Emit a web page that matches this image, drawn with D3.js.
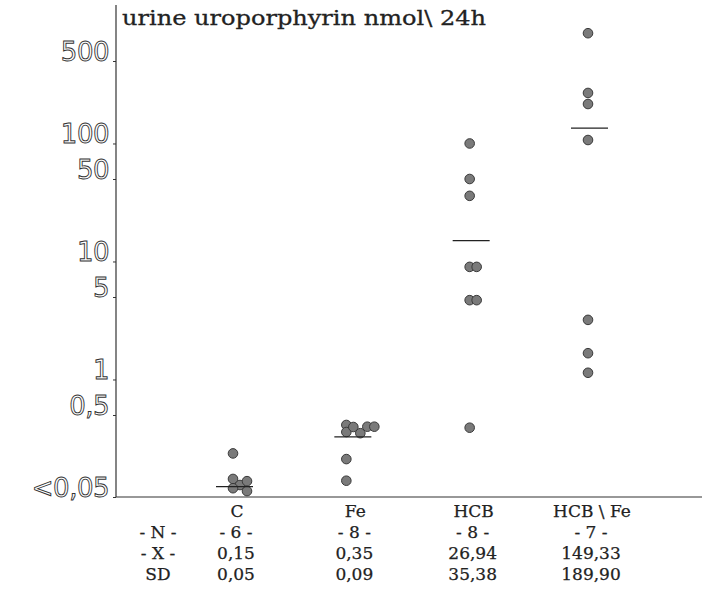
<!DOCTYPE html>
<html>
<head>
<meta charset="utf-8">
<script src="https://cdn.jsdelivr.net/npm/d3@7"></script>
<style>
  body { margin: 0; background: #fff; }
  .tbl { font-family: "DejaVu Serif", serif; font-size: 17px; fill: #222; stroke: #222; stroke-width: 0.25px; }
</style>
</head>
<body>
<div id="chart"></div>
<script>
// Setting the svg area
var svgWidth = 702;
var svgHeight = 590;

// groups and the values (log scale, lower part compressed)
var groups = ["C", "Fe", "HCB", "HCB \\ Fe"];
var valuesC = [0.17, 0.083, 0.070, 0.064, 0.078, 0.059];
var valuesFe = [0.378, 0.31, 0.357, 0.30, 0.36, 0.36, 0.145, 0.079];
var valuesHCB = [100, 50, 36, 9, 9, 4.7, 4.7, 0.35];
var valuesHCBFe = [860, 268, 216, 107, 3.2, 1.67, 1.14];
var lineValues = [0.067, 0.27, 15, 135];

var yTicks = [500, 100, 50, 10, 5, 1, 0.5, 0.05];

// table under the chart
var rowLabels = ["- N -", "- X -", "SD"];
var nRow = ["- 6 -", "- 8 -", "- 8 -", "- 7 -"];
var meanRow = ["0,15", "0,35", "26,94", "149,33"];
var sdRow = ["0,05", "0,09", "35,38", "189,90"];

var axisX = 116;
var axisY = 497;

var svg = d3.select("#chart")
            .append("svg")
            .attr("width", svgWidth)
            .attr("height", svgHeight);

// y: log scale with a break below 0.5
var yScale = d3.scaleLog()
               .domain([0.05, 0.5, 500])
               .range([axisY, 415, 61]);

var xScale = d3.scalePoint()
               .domain(groups)
               .range([233, 588]);

// y axis
var leftAxis = d3.axisLeft(yScale)
                 .tickValues(yTicks)
                 .tickSize(3)
                 .tickPadding(4)
                 .tickFormat(d => d === 0.05 ? "<0,05" : String(d).replace(".", ","));

var yAxis = svg.append("g")
               .attr("transform", `translate(${axisX}, 0)`)
               .call(leftAxis);

yAxis.select(".domain").remove();
yAxis.selectAll("line").attr("stroke", "#333");
yAxis.selectAll("text")
     .attr("dy", "-0.02em")
     .attr("font-family", "DejaVu Sans, sans-serif")
     .attr("font-size", "26px")
     .attr("fill", "#fff")
     .attr("stroke", "#333")
     .attr("stroke-width", 0.9)
     .attr("letter-spacing", "-0.5px");

svg.append("line")
   .attr("x1", axisX).attr("x2", axisX)
   .attr("y1", 5).attr("y2", axisY)
   .attr("stroke", "#333")
   .attr("stroke-width", 1.2);

svg.append("line")
   .attr("x1", axisX).attr("x2", svgWidth)
   .attr("y1", axisY).attr("y2", axisY)
   .attr("stroke", "#333")
   .attr("stroke-width", 1.2);

// title
svg.append("text")
   .attr("x", 122)
   .attr("y", 25)
   .attr("font-family", "DejaVu Serif, serif")
   .attr("font-size", "21px")
   .attr("fill", "#222")
   .attr("stroke", "#222")
   .attr("stroke-width", 0.3)
   .attr("textLength", 364)
   .attr("lengthAdjust", "spacingAndGlyphs")
   .text("urine uroporphyrin nmol\\ 24h");

// simple dodge so touching dots sit side by side like in the original
function dodge(vals, cx) {
    var placed = [];
    return vals.map(function(v) {
        var y = yScale(v);
        var x = cx;
        while (placed.some(p => Math.hypot(p.x - x, p.y - y) < 7)) { x += 7; }
        placed.push({x: x, y: y});
        return {x: x, y: y};
    });
}

var allValues = [valuesC, valuesFe, valuesHCB, valuesHCBFe];
var dots = [];
allValues.forEach(function(vals, i) {
    var offset = i === 1 ? -5 : 0;
    dodge(vals, xScale(groups[i]) + offset).forEach(p => dots.push(p));
});

svg.append("g")
   .selectAll("circle")
   .data(dots)
   .enter()
   .append("circle")
   .attr("cx", d => d.x)
   .attr("cy", d => d.y)
   .attr("r", 4.8)
   .style("fill", "#7a7a7a")
   .style("stroke", "#3a3a3a")
   .style("stroke-width", 1);

// mean lines
svg.append("g")
   .selectAll("line")
   .data(lineValues)
   .enter()
   .append("line")
   .attr("x1", (d, i) => xScale(groups[i]) - 17)
   .attr("x2", (d, i) => xScale(groups[i]) + 20)
   .attr("y1", d => yScale(d))
   .attr("y2", d => yScale(d))
   .attr("stroke", "#222")
   .attr("stroke-width", 1.3);

// category labels and table
var table = svg.append("g").attr("class", "tbl");

table.selectAll(".cat")
     .data(groups)
     .enter()
     .append("text")
     .attr("x", d => xScale(d) + 4)
     .attr("y", 517)
     .attr("text-anchor", "middle")
     .text(d => d);

var rows = [nRow, meanRow, sdRow];
var rowY = [538, 559, 580];

rowLabels.forEach(function(label, r) {
    table.append("text")
         .attr("x", 158)
         .attr("y", rowY[r])
         .attr("text-anchor", "middle")
         .text(label);
    table.selectAll(".r" + r)
         .data(rows[r])
         .enter()
         .append("text")
         .attr("x", (d, i) => xScale(groups[i]) + 3)
         .attr("y", rowY[r])
         .attr("text-anchor", "middle")
         .text(d => d);
});
</script>
</body>
</html>
